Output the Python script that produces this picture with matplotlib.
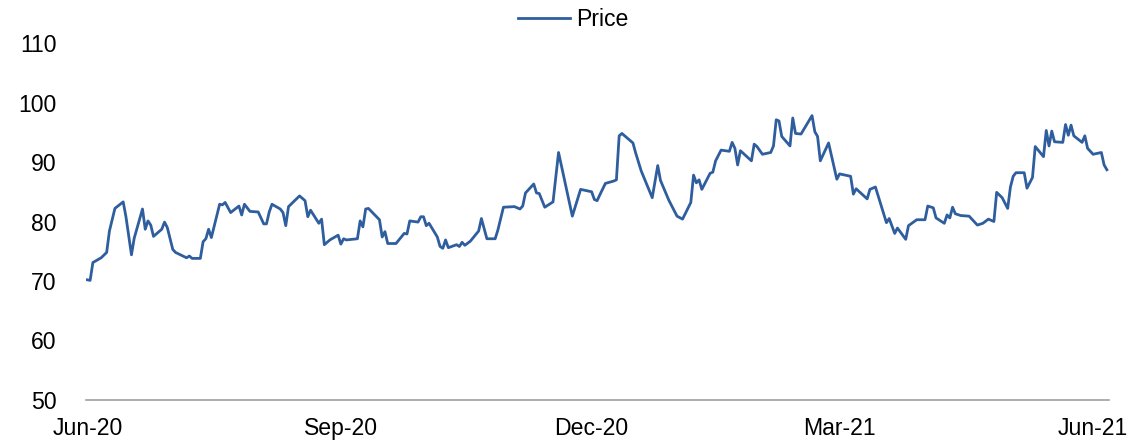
import numpy as np
import pandas as pd
import matplotlib
matplotlib.use("Agg")
import matplotlib.pyplot as plt

plt.rcParams['font.family'] = ['Liberation Sans', 'DejaVu Sans']

START = pd.Timestamp('2020-06-01')

# days since 1 Jun 2020
days = [0, 1, 2, 5, 7, 8, 10, 13, 14, 16, 17, 20, 21, 22, 23, 24, 27, 28, 29, 31,
        32, 36, 37, 38, 41, 42, 43, 44, 45, 48, 49, 50, 52, 55, 56, 57, 59, 62, 64, 65,
        66, 67, 70, 71, 72, 73, 77, 79, 80, 81, 84, 85, 86, 88, 91, 92, 93, 94, 98, 99,
        100, 101, 102, 106, 107, 108, 109, 112, 115, 116, 117, 120, 121, 122, 123, 124, 127, 128, 129, 130,
        131, 134, 135, 136, 137, 139, 142, 143, 145, 148, 149, 151, 155, 157, 158, 159, 162, 163, 164, 166,
        169, 171, 176, 179, 183, 184, 185, 186, 188, 191, 192, 193, 194, 198, 199, 201, 205, 207, 208, 211,
        214, 216, 219, 220, 221, 222, 223, 226, 227, 228, 230, 233, 234, 235, 236, 237, 241, 242, 243, 245,
        248, 249, 250, 251, 252, 255, 256, 257, 259, 263, 264, 265, 266, 269, 272, 273, 277, 278, 279, 283,
        284, 286, 290, 291, 293, 294, 297, 298, 301, 304, 305, 307, 308, 311, 312, 313, 314, 315, 317, 320,
        323, 325, 327, 329, 330, 332, 334, 335, 336, 337, 340, 341, 343, 344, 347, 348, 349, 350, 351, 354,
        355, 356, 357, 358, 361, 362, 363, 365, 368, 369, 370]

price = [70.2, 70.1, 73.1, 73.9, 74.8, 78.4, 82.2, 83.3, 80.8, 74.4, 77.2, 82.1, 78.7, 80.1, 79.4, 77.5, 78.7, 79.9, 79.0, 75.3,
         74.8, 73.9, 74.2, 73.8, 73.8, 76.6, 77.1, 78.7, 77.3, 82.9, 82.8, 83.2, 81.5, 82.6, 81.1, 82.9, 81.7, 81.6, 79.6, 79.6,
         81.6, 82.9, 82.1, 81.5, 79.3, 82.5, 84.3, 83.5, 80.8, 81.9, 79.7, 80.4, 76.1, 76.9, 77.7, 76.2, 77.1, 76.9, 77.1, 80.1,
         79.1, 82.1, 82.2, 80.3, 77.4, 78.3, 76.3, 76.3, 78.0, 77.9, 80.1, 79.9, 80.8, 80.8, 79.3, 79.7, 77.4, 75.8, 75.5, 76.9,
         75.6, 76.1, 75.8, 76.5, 76.0, 76.7, 78.4, 80.5, 77.1, 77.1, 78.6, 82.4, 82.5, 82.1, 82.6, 84.8, 86.3, 84.8, 84.7, 82.4,
         83.3, 91.6, 80.9, 85.4, 85.0, 83.7, 83.5, 84.5, 86.4, 86.8, 87.0, 94.4, 94.8, 93.2, 91.5, 88.5, 84.0, 89.4, 86.9, 83.6,
         80.9, 80.4, 83.2, 87.8, 86.5, 87.0, 85.4, 88.1, 88.3, 90.2, 92.0, 91.8, 93.3, 92.3, 89.5, 91.9, 90.2, 93.0, 92.6, 91.3,
         91.6, 92.7, 97.1, 96.9, 94.3, 92.7, 97.4, 94.8, 94.7, 97.8, 95.1, 94.3, 90.2, 93.2, 87.1, 88.0, 87.6, 84.6, 85.5, 83.8,
         85.4, 85.8, 79.8, 80.5, 78.0, 78.9, 77.0, 79.3, 80.3, 80.3, 82.6, 82.3, 80.6, 79.7, 81.1, 80.6, 82.4, 81.3, 81.0, 80.9,
         79.4, 79.7, 80.4, 80.0, 84.9, 84.0, 82.2, 85.8, 87.6, 88.2, 88.2, 85.6, 87.4, 92.6, 90.9, 95.3, 92.7, 95.2, 93.4, 93.3,
         96.3, 94.5, 96.2, 94.4, 93.3, 94.4, 92.3, 91.3, 91.6, 89.5, 88.7]

tick_dates = ['2020-06-01', '2020-09-01', '2020-12-01', '2021-03-01', '2021-06-01']
tick_labels = ['Jun-20', 'Sep-20', 'Dec-20', 'Mar-21', 'Jun-21']
y_ticks = [50, 60, 70, 80, 90, 100, 110]

dates = START + pd.to_timedelta(days, unit='D')

fig = plt.figure(figsize=(11.33, 4.43), dpi=100)
ax = fig.add_axes([0.0759, 0.0971, 0.9025, 0.8058])

ax.plot(dates, price, color='#2F5E9E', lw=2.0, label='Price')

ax.set_ylim(50, 110)
ax.set_yticks(y_ticks)
ax.set_xlim(START - pd.Timedelta(days=0.5), START + pd.Timedelta(days=370.6))
ax.set_xticks(pd.to_datetime(tick_dates))
ax.set_xticklabels(tick_labels)

for s in ['top', 'right', 'left']:
    ax.spines[s].set_visible(False)
ax.spines['bottom'].set_color('#A0A0A0')
ax.spines['bottom'].set_linewidth(1.2)
ax.tick_params(axis='both', length=0, labelsize=16.6, colors='black')
ax.tick_params(axis='y', pad=21)
ax.tick_params(axis='x', pad=12)

fig.legend(loc='center', bbox_to_anchor=(0.506, 0.955), frameon=False,
           fontsize=16.6, handlelength=2.25, handletextpad=0.3)

fig.savefig('out.png', dpi=100)
